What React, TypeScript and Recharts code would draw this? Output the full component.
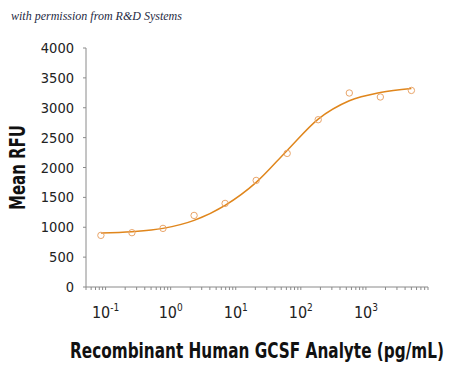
import React from "react"
import { ComposedChart, Line, Scatter, XAxis, YAxis, Label } from "recharts"

// measured points (pg/mL, Mean RFU), 3-fold dilution series
const concentrations = [0.0847, 0.254, 0.762, 2.29, 6.86, 20.6, 61.7, 185, 556, 1667, 5000]
const meanRfu = [864, 909, 981, 1198, 1399, 1784, 2236, 2800, 3247, 3180, 3290]

// fitted curve at the same concentrations
const curveRfu = [904, 926, 981, 1115, 1366, 1751, 2286, 2811, 3118, 3257, 3324]

const yTicks = [0, 500, 1000, 1500, 2000, 2500, 3000, 3500, 4000]
const majorTicks = [0.1, 1, 10, 100, 1000]
const tickBases = [0.01, 0.1, 1, 10, 100, 1000]
const multipliers = [1, 2, 3, 4, 5, 6, 7, 8, 9]

const xTicks = tickBases
  .flatMap((b) => multipliers.map((m) => +(b * m).toPrecision(3)))
  .filter((v) => v >= 0.05 && v <= 9000)

const points = concentrations.map((c, i) => ({ x: c, y: meanRfu[i] }))
const curve = concentrations.map((c, i) => ({ x: c, y: curveRfu[i] }))

const narrow = "'DejaVu Sans', sans-serif"

function XTick(props: any) {
  const { x, y, payload } = props
  const v = payload.value
  const idx = majorTicks.findIndex((m) => Math.abs(m - v) < 1e-9)
  if (idx < 0) return null
  const exp = Math.round(Math.log10(v))
  return (
    <text x={x} y={y + 26} textAnchor="middle" fill="#222" style={{ fontFamily: narrow, fontSize: 16, fontStretch: "condensed" }}>
      <tspan>10</tspan>
      <tspan dy={-7} style={{ fontSize: 10 }}>{exp}</tspan>
    </text>
  )
}

function YTick(props: any) {
  const { x, y, payload } = props
  return (
    <text x={x - 7} y={y + 5} textAnchor="end" fill="#222" style={{ fontFamily: narrow, fontSize: 14.5, fontStretch: "condensed" }}>
      {payload.value}
    </text>
  )
}

function XTitle(props: any) {
  const { viewBox } = props
  const cx = viewBox.x + viewBox.width / 2
  return (
    <text
      x={cx}
      y={358}
      textAnchor="middle"
      textLength={374}
      lengthAdjust="spacingAndGlyphs"
      fill="#111"
      style={{ fontFamily: narrow, fontSize: 22, fontWeight: 700, fontStretch: "condensed" }}
    >
      Recombinant Human GCSF Analyte (pg/mL)
    </text>
  )
}

function YTitle(props: any) {
  const { viewBox } = props
  const cy = viewBox.y + viewBox.height / 2
  return (
    <text
      x={25}
      y={cy}
      transform={`rotate(-90 25 ${cy})`}
      textAnchor="middle"
      textLength={85}
      lengthAdjust="spacingAndGlyphs"
      fill="#111"
      style={{ fontFamily: narrow, fontSize: 21, fontWeight: 700, fontStretch: "condensed" }}
    >
      Mean RFU
    </text>
  )
}

export default function App() {
  return (
    <div style={{ position: "relative", width: 450, height: 366, background: "#fff" }}>
      <style>{`body{margin:0}`}</style>
      <div
        style={{
          position: "absolute",
          left: 11,
          top: 9,
          fontFamily: "'Liberation Serif', serif",
          fontStyle: "italic",
          fontSize: 12,
          color: "#1f2a44",
        }}
      >
        with permission from R&amp;D Systems
      </div>
      <ComposedChart width={450} height={366} margin={{ top: 48, right: 22, bottom: 0, left: 0 }}>
        <XAxis
          dataKey="x"
          type="number"
          scale="log"
          domain={[0.05, 9000]}
          ticks={xTicks}
          interval={0}
          allowDataOverflow
          height={79}
          tickSize={3}
          stroke="#8a8a8a"
          tick={<XTick />}
        >
          <Label content={<XTitle />} />
        </XAxis>
        <YAxis
          dataKey="y"
          type="number"
          domain={[0, 4000]}
          ticks={yTicks}
          interval={0}
          width={86}
          tickSize={3}
          stroke="#8a8a8a"
          tick={<YTick />}
        >
          <Label content={<YTitle />} />
        </YAxis>
        <Line
          data={curve}
          dataKey="y"
          type="monotone"
          stroke="#e0861c"
          strokeWidth={1.5}
          dot={false}
          activeDot={false}
          isAnimationActive={false}
        />
        <Scatter
          data={points}
          dataKey="y"
          fill="none"
          stroke="#e9a56a"
          strokeWidth={1}
          shape={(p: any) => <circle cx={p.cx} cy={p.cy} r={3.2} fill="none" stroke="#e9a56a" strokeWidth={1} />}
          isAnimationActive={false}
        />
      </ComposedChart>
    </div>
  )
}
